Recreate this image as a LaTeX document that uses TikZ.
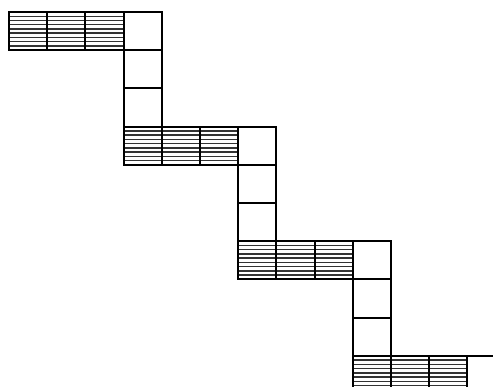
\documentclass[tikz,border=0pt]{standalone}
\usepackage{tikz}

\begin{document}
\begin{tikzpicture}[
    x=1cm,y=-1cm,
    cellbox/.style={draw=black,line width=1.6pt},
    hatchline/.style={draw=black!80,line width=1.1pt},
]
\useasboundingbox (0,0) rectangle (12.906,10.131);
\clip (0,0) rectangle (12.906,10.131);
% four stairs, each shifted by three cells
\foreach \s in {0,1,2,3} {
  \begin{scope}[shift={(0.236+3*\s,0.314+3*\s)}]
    % hatched tread
    \foreach \c in {0,1,2} {
      \foreach \h in {1,...,8}
        \draw[hatchline] (\c,\h/9) -- (\c+1,\h/9);
      \draw[cellbox] (\c,0) rectangle (\c+1,1);
    }
    % white riser column
    \foreach \r in {0,1,2}
      \draw[cellbox] (3,\r) rectangle (4,\r+1);
  \end{scope}
}
\end{tikzpicture}
\end{document}
